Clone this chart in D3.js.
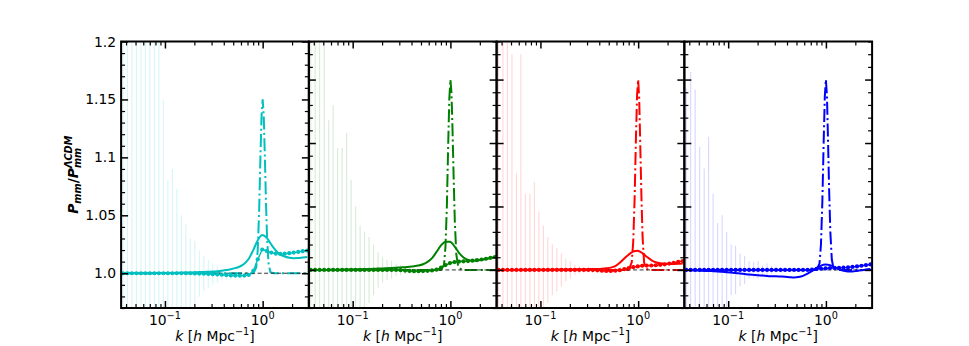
<!DOCTYPE html>
<html>
<head>
<meta charset="utf-8">
<script src="https://cdn.jsdelivr.net/npm/d3@7"></script>
<style>
  body { margin: 0; background: #fff; }
  svg { display: block; }
  text { font-family: "DejaVu Sans", sans-serif; }
</style>
</head>
<body>
<svg id="chart" width="969" height="346"></svg>
<script>
// k values of the binned measurements (shared by every panel)
const kPoints = [
  0.0372, 0.0413, 0.0459, 0.0511, 0.0568, 0.0631, 0.0701, 0.0780, 0.0867, 0.0964,
  0.1072, 0.1191, 0.1324, 0.1472, 0.1637, 0.1820, 0.2023, 0.2249, 0.2500, 0.2780,
  0.3090, 0.3436, 0.3819, 0.4246, 0.4721, 0.5248, 0.5834, 0.6486, 0.7211, 0.8017,
  0.8913, 0.9908, 1.1015, 1.2246, 1.3614, 1.5136, 1.6827, 1.8707, 2.0797, 2.3121, 2.5704, 2.8576
];

const cyanPoints = [
  1.000, 1.000, 1.000, 1.000, 1.000, 1.000, 1.000, 1.000, 1.000, 1.000,
  1.000, 1.000, 1.000, 1.000, 1.000, 1.000, 0.9998, 0.9997, 0.9996, 0.9994,
  0.9992, 0.9990, 0.9987, 0.9984, 0.9981, 0.9980, 0.9979, 0.9980, 0.9985, 1.0020,
  1.0120, 1.0205, 1.0192, 1.0178, 1.0170, 1.0167, 1.0169, 1.0173, 1.0178, 1.0184, 1.0190, 1.0196
];
const cyanSolid = [
  1.0000, 1.0000, 1.0000, 1.0000, 1.0000, 1.0000, 1.0000, 1.0001, 1.0001, 1.0002,
  1.0002, 1.0003, 1.0004, 1.0005, 1.0006, 1.0007, 1.0008, 1.0010, 1.0011, 1.0013,
  1.0015, 1.0018, 1.0022, 1.0027, 1.0034, 1.0044, 1.0058, 1.0082, 1.0125, 1.0200,
  1.0285, 1.0330, 1.0305, 1.0248, 1.0196, 1.0163, 1.0144, 1.0134, 1.0130, 1.0131, 1.0136, 1.0141
];
const greenPoints = [
  1.000, 1.000, 1.000, 1.000, 1.000, 1.000, 1.000, 1.000, 1.000, 1.000,
  1.000, 1.000, 1.000, 1.000, 1.000, 1.000, 1.000, 1.000, 1.000, 1.000,
  0.9998, 0.9995, 0.9992, 0.9990, 0.9990, 0.9991, 0.9993, 0.9996, 1.0002, 1.0018,
  1.0038, 1.0054, 1.0062, 1.0066, 1.0068, 1.0070, 1.0073, 1.0077, 1.0082, 1.0088, 1.0095, 1.0102
];
const greenSolid = [
  1.0000, 1.0000, 1.0000, 1.0000, 1.0000, 1.0001, 1.0001, 1.0002, 1.0003, 1.0004,
  1.0005, 1.0006, 1.0007, 1.0008, 1.0009, 1.0011, 1.0012, 1.0014, 1.0016, 1.0018,
  1.0020, 1.0022, 1.0025, 1.0029, 1.0035, 1.0045, 1.0063, 1.0093, 1.0142, 1.0193,
  1.0222, 1.0223, 1.0186, 1.0135, 1.0098, 1.0079, 1.0073, 1.0075, 1.0080, 1.0086, 1.0093, 1.0100
];
const redPoints = [
  1.000, 1.000, 1.000, 1.000, 1.000, 1.000, 1.000, 1.000, 1.000, 1.000,
  1.000, 1.000, 1.000, 1.000, 1.000, 1.000, 1.000, 1.000, 1.000, 1.000,
  1.0000, 0.9999, 0.9997, 0.9994, 0.9992, 0.9992, 0.9994, 0.9998, 1.0006, 1.0015,
  1.0022, 1.0028, 1.0033, 1.0034, 1.0035, 1.0037, 1.0040, 1.0044, 1.0050, 1.0056, 1.0063, 1.0070
];
const redSolid = [
  1.0000, 1.0000, 1.0000, 1.0000, 1.0000, 1.0000, 1.0001, 1.0001, 1.0001, 1.0001,
  1.0002, 1.0002, 1.0002, 1.0003, 1.0003, 1.0003, 1.0004, 1.0004, 1.0005, 1.0005,
  1.0006, 1.0007, 1.0008, 1.0010, 1.0013, 1.0018, 1.0030, 1.0056, 1.0090, 1.0122,
  1.0145, 1.0151, 1.0133, 1.0104, 1.0078, 1.0061, 1.0052, 1.0048, 1.0047, 1.0047, 1.0048, 1.0050
];
const bluePoints = [
  1.000, 1.000, 1.000, 1.000, 1.000, 1.000, 1.000, 1.000, 1.000, 1.000,
  1.000, 1.000, 1.000, 1.000, 1.000, 1.000, 1.000, 1.000, 1.000, 1.000,
  1.0000, 1.0000, 1.0000, 1.0000, 1.0000, 1.0000, 1.0000, 1.0000, 1.0002, 1.0008,
  1.0010, 1.0012, 1.0015, 1.0016, 1.0016, 1.0018, 1.0020, 1.0024, 1.0028, 1.0033, 1.0038, 1.0043
];
const blueSolid = [
  1.0000, 0.9998, 0.9996, 0.9995, 0.9993, 0.9992, 0.9990, 0.9988, 0.9985, 0.9982,
  0.9979, 0.9976, 0.9972, 0.9968, 0.9964, 0.9961, 0.9958, 0.9956, 0.9953, 0.9951,
  0.9950, 0.9948, 0.9946, 0.9943, 0.9941, 0.9944, 0.9953, 0.9970, 0.9992, 1.0014,
  1.0034, 1.0042, 1.0038, 1.0022, 1.0005, 0.9994, 0.9988, 0.9988, 0.9992, 0.9997, 1.0003, 1.0007
];

// half-widths of the faint error bars, for the first 26 k bins
const cyanErr = [0.30, 0.30, 0.30, 0.30, 0.30, 0.30, 0.30, 0.30, 0.30, 0.150, 0.080, 0.090, 0.073,
  0.050, 0.042, 0.030, 0.028, 0.020, 0.015, 0.012, 0.009, 0.007, 0.005, 0.004, 0.003, 0.002];
const greenErr = [0.25, 0.30, 0.30, 0.25, 0.118, 0.130, 0.096, 0.096, 0.108, 0.071, 0.050, 0.035, 0.030,
  0.026, 0.020, 0.014, 0.010, 0.008, 0.007, 0.005, 0.004, 0.003, 0.002, 0.002, 0.0015, 0.001];
const redErr = [0.30, 0.30, 0.30, 0.170, 0.076, 0.170, 0.060, 0.060, 0.069, 0.046, 0.035, 0.026, 0.020,
  0.017, 0.013, 0.009, 0.007, 0.004, 0.003, 0.0025, 0.002, 0.002, 0.0015, 0.0015, 0.001, 0.001];
const blueErr = [0.143, 0.156, 0.142, 0.097, 0.080, 0.105, 0.060, 0.037, 0.043, 0.030, 0.020, 0.019, 0.013,
  0.011, 0.007, 0.006, 0.007, 0.0035, 0.005, 0.003, 0.002, 0.002, 0.0015, 0.0015, 0.001, 0.001];

// narrow dash-dot feature around k = 1
const dashK = [0.0356, 0.5, 0.80, 0.86, 0.89, 0.92, 0.95, 0.975, 1.0, 1.025, 1.05, 1.08, 1.11, 1.15, 1.2, 1.3, 2.97];
const cyanDash  = [1, 1, 1, 1.005, 1.020, 1.053, 1.102, 1.136, 1.150, 1.137, 1.105, 1.063, 1.030, 1.008, 1.001, 1, 1];
const greenDash = [1, 1, 1, 1.004, 1.018, 1.050, 1.100, 1.135, 1.150, 1.140, 1.112, 1.072, 1.038, 1.012, 1.003, 1, 1];
const redDash   = [1, 1, 1, 1.006, 1.022, 1.056, 1.105, 1.138, 1.150, 1.135, 1.100, 1.058, 1.026, 1.006, 1.001, 1, 1];
const blueDash  = [1, 1, 1, 1.005, 1.020, 1.054, 1.103, 1.137, 1.150, 1.137, 1.104, 1.062, 1.030, 1.008, 1.001, 1, 1];

const panelColors = ["#00bfbf", "#008000", "#ff0000", "#0000ff"];
const xDomain = [0.0356, 2.97];
const yMin = 0.97;
const yMax = [1.2, 1.18, 1.18, 1.18];

const xMajorTicks = [0.1, 1];
const xMinorTicks = [0.04, 0.05, 0.06, 0.07, 0.08, 0.09, 0.2, 0.3, 0.4, 0.5, 0.6, 0.7, 0.8, 0.9, 2];
const xTickExp = ["\u22121", "0"];
const yMajorTicks = [1.0, 1.05, 1.1, 1.15, 1.2];
const yTickLabels = ["1.0", "1.05", "1.1", "1.15", "1.2"];
const yMinorTicks = [0.97, 0.98, 0.99, 1.01, 1.02, 1.03, 1.04, 1.06, 1.07, 1.08, 1.09,
  1.11, 1.12, 1.13, 1.14, 1.16, 1.17, 1.18, 1.19];

const panels = [
  { pts: cyanPoints, solid: cyanSolid, err: cyanErr, dash: cyanDash },
  { pts: greenPoints, solid: greenSolid, err: greenErr, dash: greenDash },
  { pts: redPoints, solid: redSolid, err: redErr, dash: redDash },
  { pts: bluePoints, solid: blueSolid, err: blueErr, dash: blueDash }
];

const svg = d3.select("#chart");
const frameLeft = 121.1, frameTop = 41.5, frameBottom = 308, panelW = 187.75;
const fs = 13.9;
const defs = svg.append("defs");

function tickStyle(sel, w) {
  sel.select(".domain").remove();
  sel.selectAll(".tick line").attr("stroke", "#000").attr("stroke-width", w);
}

panels.forEach((p, i) => {
  const color = panelColors[i];
  const x0 = frameLeft + i * panelW;
  const x = d3.scaleLog().domain(xDomain).range([x0, x0 + panelW]);
  const y = d3.scaleLinear().domain([yMin, yMax[i]]).range([frameBottom, frameTop]);

  defs.append("clipPath").attr("id", "clip" + i)
    .append("rect").attr("x", x0).attr("y", frameTop).attr("width", panelW).attr("height", frameBottom - frameTop);

  const plot = svg.append("g").attr("clip-path", `url(#clip${i})`);

  // faint error bars
  plot.append("g").selectAll("line")
    .data(p.err.map((s, j) => ({ k: kPoints[j], v: p.pts[j], s: s })))
    .join("line")
    .attr("x1", d => x(d.k)).attr("x2", d => x(d.k))
    .attr("y1", d => y(d.v - d.s)).attr("y2", d => y(d.v + d.s))
    .attr("stroke", color).attr("stroke-opacity", 0.16).attr("stroke-width", 1.1);

  // dash-dot narrow peak
  plot.append("path")
    .datum(dashK.map((k, j) => [k, p.dash[j]]))
    .attr("d", d3.line().x(d => x(d[0])).y(d => y(d[1])))
    .attr("fill", "none").attr("stroke", color).attr("stroke-width", 2)
    .attr("stroke-dasharray", "13,3.3,2,3.3");

  // reference line at unity
  plot.append("line")
    .attr("x1", x0).attr("x2", x0 + panelW).attr("y1", y(1)).attr("y2", y(1))
    .attr("stroke", "#333").attr("stroke-width", 1).attr("stroke-dasharray", "4,2.5");

  // smooth solid model
  plot.append("path")
    .datum(kPoints.map((k, j) => [k, p.solid[j]]))
    .attr("d", d3.line().x(d => x(d[0])).y(d => y(d[1])).curve(d3.curveMonotoneX))
    .attr("fill", "none").attr("stroke", color).attr("stroke-width", 2);

  // measured points
  const ptData = kPoints.map((k, j) => [k, p.pts[j]]);
  plot.append("path")
    .datum(ptData)
    .attr("d", d3.line().x(d => x(d[0])).y(d => y(d[1])))
    .attr("fill", "none").attr("stroke", color).attr("stroke-width", 1.4);
  plot.append("g").selectAll("circle")
    .data(ptData)
    .join("circle")
    .attr("cx", d => x(d[0])).attr("cy", d => y(d[1])).attr("r", 2.1)
    .attr("fill", color);

  // ticks on all four sides, pointing inward
  const yMaj = yMajorTicks.filter(v => v <= yMax[i] + 1e-9);
  const yMin_ = yMinorTicks.filter(v => v <= yMax[i] + 1e-9);
  const axes = svg.append("g");
  axes.append("g").attr("transform", `translate(0,${frameBottom})`)
    .call(d3.axisBottom(x).tickValues(xMajorTicks).tickSize(-7).tickFormat("")).call(tickStyle, 1.5);
  axes.append("g").attr("transform", `translate(0,${frameBottom})`)
    .call(d3.axisBottom(x).tickValues(xMinorTicks).tickSize(-4).tickFormat("")).call(tickStyle, 1.2);
  axes.append("g").attr("transform", `translate(0,${frameTop})`)
    .call(d3.axisTop(x).tickValues(xMajorTicks).tickSize(-7).tickFormat("")).call(tickStyle, 1.5);
  axes.append("g").attr("transform", `translate(0,${frameTop})`)
    .call(d3.axisTop(x).tickValues(xMinorTicks).tickSize(-4).tickFormat("")).call(tickStyle, 1.2);
  axes.append("g").attr("transform", `translate(${x0},0)`)
    .call(d3.axisLeft(y).tickValues(yMaj).tickSize(-7).tickFormat("")).call(tickStyle, 1.5);
  axes.append("g").attr("transform", `translate(${x0},0)`)
    .call(d3.axisLeft(y).tickValues(yMin_).tickSize(-4).tickFormat("")).call(tickStyle, 1.2);
  axes.append("g").attr("transform", `translate(${x0 + panelW},0)`)
    .call(d3.axisRight(y).tickValues(yMaj).tickSize(-7).tickFormat("")).call(tickStyle, 1.5);
  axes.append("g").attr("transform", `translate(${x0 + panelW},0)`)
    .call(d3.axisRight(y).tickValues(yMin_).tickSize(-4).tickFormat("")).call(tickStyle, 1.2);

  // frame
  svg.append("rect")
    .attr("x", x0).attr("y", frameTop).attr("width", panelW).attr("height", frameBottom - frameTop)
    .attr("fill", "none").attr("stroke", "#000").attr("stroke-width", 2);

  // x tick labels 10^-1, 10^0
  xMajorTicks.forEach((t, j) => {
    const tx = svg.append("text")
      .attr("x", x(t)).attr("y", 325).attr("text-anchor", "middle")
      .attr("font-size", fs).attr("fill", "#000");
    tx.append("tspan").text("10");
    tx.append("tspan").attr("font-size", fs * 0.7).attr("dy", -5.6).text(xTickExp[j]);
  });

  // x axis label: k [h Mpc^-1]
  const xl = svg.append("text")
    .attr("x", x0 + panelW / 2).attr("y", 341).attr("text-anchor", "middle")
    .attr("font-size", fs).attr("fill", "#000");
  xl.append("tspan").attr("font-style", "italic").text("k");
  xl.append("tspan").text(" [");
  xl.append("tspan").attr("font-style", "italic").text("h");
  xl.append("tspan").text(" Mpc");
  xl.append("tspan").attr("font-size", fs * 0.7).attr("dy", -5.6).text("\u22121");
  xl.append("tspan").attr("dy", 5.6).text("]");

  if (i === 0) {
    yMaj.forEach((t, j) => {
      svg.append("text")
        .attr("x", x0 - 5).attr("y", y(t)).attr("dy", "0.36em")
        .attr("text-anchor", "end").attr("font-size", fs).attr("fill", "#000")
        .text(yTickLabels[j]);
    });
  }
});

// y axis label: P_mm / P_mm^ΛCDM (super and subscript stacked)
const yl = svg.append("text")
  .attr("transform", `translate(78,${(frameTop + frameBottom) / 2}) rotate(-90)`)
  .attr("text-anchor", "middle").attr("font-size", fs).attr("font-weight", "bold")
  .attr("fill", "#000");
const small = fs * 0.7;
yl.append("tspan").attr("font-style", "italic").text("P");
yl.append("tspan").attr("font-style", "italic").attr("font-size", small).attr("dy", 3).text("mm");
yl.append("tspan").attr("dy", -3).text("/");
yl.append("tspan").attr("font-style", "italic").text("P");
const sup = yl.append("tspan").attr("font-style", "italic").attr("font-size", small).attr("dy", -6).text("\u039BCDM");
const supW = sup.node().getComputedTextLength();
yl.append("tspan").attr("font-style", "italic").attr("font-size", small)
  .attr("dx", -supW).attr("dy", 9).text("mm");
</script>
</body>
</html>
